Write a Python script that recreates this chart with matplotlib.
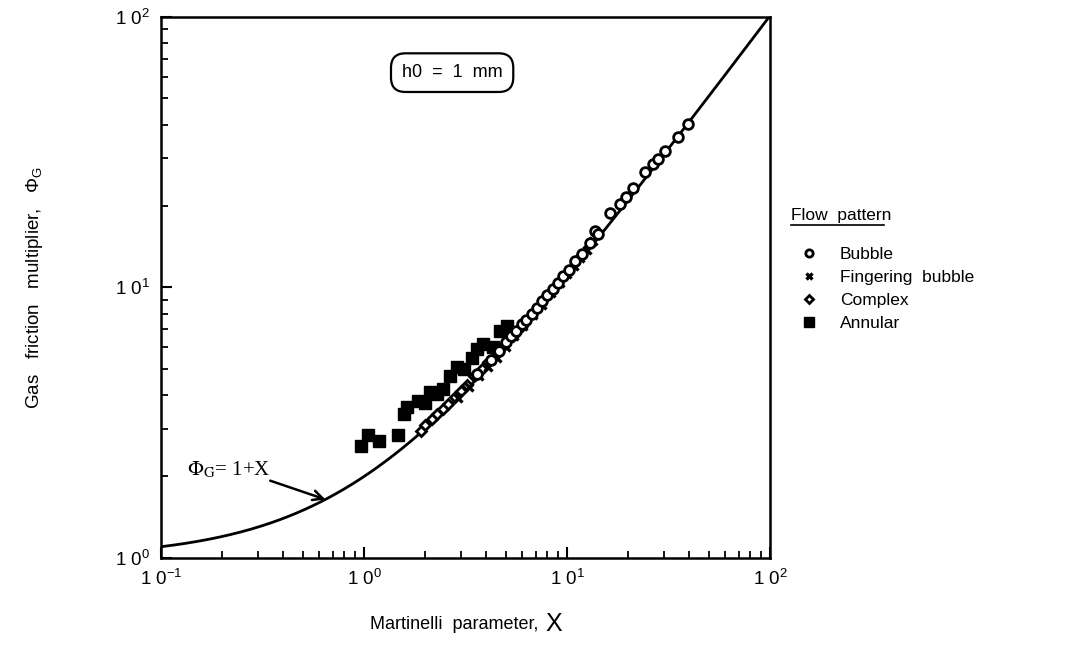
import matplotlib

matplotlib.use("Agg")
import matplotlib.pyplot as plt
import numpy as np
from matplotlib.lines import Line2D
from matplotlib.ticker import FixedLocator, FixedFormatter, LogLocator, NullFormatter

plt.rcParams["font.family"] = ["Liberation Sans", "DejaVu Sans"]
plt.rcParams["mathtext.fontset"] = "custom"
plt.rcParams["mathtext.rm"] = "Liberation Sans"
plt.rcParams["mathtext.it"] = "Liberation Sans:italic"
plt.rcParams["mathtext.bf"] = "Liberation Sans:bold"

# ---- data (h0 = 1 mm) ------------------------------------------------------
bubble_x = [3.6, 4.2, 4.6, 5.0, 5.3, 5.6, 6.0, 6.3, 6.7, 7.1, 7.5, 8.0, 8.5, 9.0,
            9.6, 10.2, 11.0, 11.8, 13.0, 13.7, 14.2, 16.3, 18.2, 19.5, 21.1, 24.2,
            26.5, 28.0, 30.4, 35.2, 39.5]
bubble_y = [4.8, 5.4, 5.8, 6.3, 6.6, 6.9, 7.3, 7.6, 8.0, 8.4, 8.9, 9.4, 9.9, 10.4,
            11.0, 11.6, 12.5, 13.3, 14.6, 16.2, 15.8, 18.9, 20.4, 21.6, 23.4, 26.6,
            28.6, 29.9, 32.0, 36.1, 40.3]

fing_x = [2.9, 3.3, 3.7, 4.1, 4.5, 5.0, 5.5, 6.1, 6.8, 7.5, 8.3, 9.2, 10.0, 10.8,
          11.6, 12.5, 13.5]
fing_y = [3.9, 4.3, 4.7, 5.1, 5.5, 6.0, 6.6, 7.2, 7.9, 8.6, 9.5, 10.4, 11.2, 12.0,
          12.9, 13.8, 14.9]

comp_x = [1.9, 2.0, 2.15, 2.3, 2.45, 2.6, 2.8, 3.0, 3.2, 3.5, 3.8, 4.1, 4.5, 4.9,
          5.4, 6.0]
comp_y = [2.95, 3.1, 3.25, 3.4, 3.55, 3.7, 3.95, 4.15, 4.35, 4.7, 5.0, 5.3, 5.7,
          6.1, 6.6, 7.2]

ann_x = [0.97, 1.05, 1.19, 1.47, 1.57, 1.62, 1.85, 2.0, 2.11, 2.3, 2.45, 2.65,
         2.87, 3.1, 3.4, 3.6, 3.85, 4.3, 4.7, 5.06]
ann_y = [2.6, 2.85, 2.7, 2.85, 3.4, 3.6, 3.8, 3.75, 4.1, 4.05, 4.2, 4.7, 5.1, 5.0,
         5.5, 5.9, 6.2, 6.0, 6.9, 7.2]

decades = [0.1, 1, 10, 100]
x_ticklabels = ["1 0$^{-1}$", "1 0$^{0}$", "1 0$^{1}$", "1 0$^{2}$"]
y_decades = [1, 10, 100]
y_ticklabels = ["1 0$^{0}$", "1 0$^{1}$", "1 0$^{2}$"]

# ---- figure ----------------------------------------------------------------
fig = plt.figure(figsize=(10.75, 6.51), dpi=100)
ax = fig.add_axes([0.1498, 0.143, 0.5665, 0.831])
ax.set_xscale("log")
ax.set_yscale("log")
ax.set_xlim(0.1, 100)
ax.set_ylim(1, 100)

# correlation line
xc = np.logspace(-1, 2, 300)
ax.plot(xc, 1 + xc, color="black", lw=2.0, zorder=2)

ax.plot(ann_x, ann_y, ls="none", marker="s", ms=9, mfc="black", mec="black",
        label="Annular", zorder=3)
ax.plot(comp_x, comp_y, ls="none", marker="D", ms=5.5, mfc="white", mec="black",
        mew=2.0, label="Complex", zorder=4)
ax.plot(fing_x, fing_y, ls="none", marker="x", ms=6, mec="black", mew=2.4,
        label="Fingering  bubble", zorder=4)
ax.plot(bubble_x, bubble_y, ls="none", marker="o", ms=7, mfc="white", mec="black",
        mew=2.0, label="Bubble", zorder=5)

for s in ax.spines.values():
    s.set_linewidth(1.8)

ax.xaxis.set_major_locator(FixedLocator(decades))
ax.xaxis.set_major_formatter(FixedFormatter(x_ticklabels))
ax.yaxis.set_major_locator(FixedLocator(y_decades))
ax.yaxis.set_major_formatter(FixedFormatter(y_ticklabels))
ax.xaxis.set_minor_locator(LogLocator(base=10, subs=np.arange(2, 10)))
ax.yaxis.set_minor_locator(LogLocator(base=10, subs=np.arange(2, 10)))
ax.xaxis.set_minor_formatter(NullFormatter())
ax.yaxis.set_minor_formatter(NullFormatter())
ax.tick_params(which="major", direction="in", length=8, width=1.5,
               labelsize=13.5, top=False, right=False, pad=8)
ax.tick_params(which="minor", direction="in", length=5, width=1.3,
               top=False, right=False)

# axis titles (the X is set larger than the rest, as in the original)
ax.text(0.343, -0.124, "Martinelli  parameter,", transform=ax.transAxes,
        ha="left", va="center", fontsize=13)
ax.text(0.645, -0.122, "X", transform=ax.transAxes, ha="center", va="center",
        fontsize=18)
ax.set_ylabel("Gas   friction   multiplier,   $\\mathregular{\\Phi_{G}}$",
              fontsize=13.5, labelpad=50)

# h0 box
ax.text(0.478, 0.897, "h0  =  1  mm", transform=ax.transAxes, ha="center",
        va="center", fontsize=13,
        bbox=dict(boxstyle="round,pad=0.6,rounding_size=0.8", fc="white",
                  ec="black", lw=1.6))

# correlation annotation
ax.text(0.215, 2.12, "$\\Phi_{\\rm G}$= 1+X", fontsize=15, family="Liberation Serif",
        math_fontfamily="stix", ha="center", va="center")
ax.annotate("", xy=(0.645, 1.645), xytext=(0.345, 1.93),
            arrowprops=dict(arrowstyle="->,head_length=0.7,head_width=0.35",
                            color="black", lw=1.8, shrinkA=0, shrinkB=0))

# legend
fig.text(0.7355, 0.669, "Flow  pattern", fontsize=12.5, ha="left", va="center")
fig.add_artist(Line2D([0.7355, 0.822], [0.655, 0.655], color="black", lw=1.2))
handles, labels = ax.get_legend_handles_labels()
order = [3, 2, 1, 0]
ax.legend([handles[i] for i in order], [labels[i] for i in order],
          loc="upper left", bbox_to_anchor=(0.728, 0.645),
          bbox_transform=fig.transFigure, frameon=False, fontsize=12.5,
          handletextpad=1.2, labelspacing=0.45, handlelength=1.2,
          markerscale=0.75)

fig.savefig("out.png", dpi=100, facecolor="white")
